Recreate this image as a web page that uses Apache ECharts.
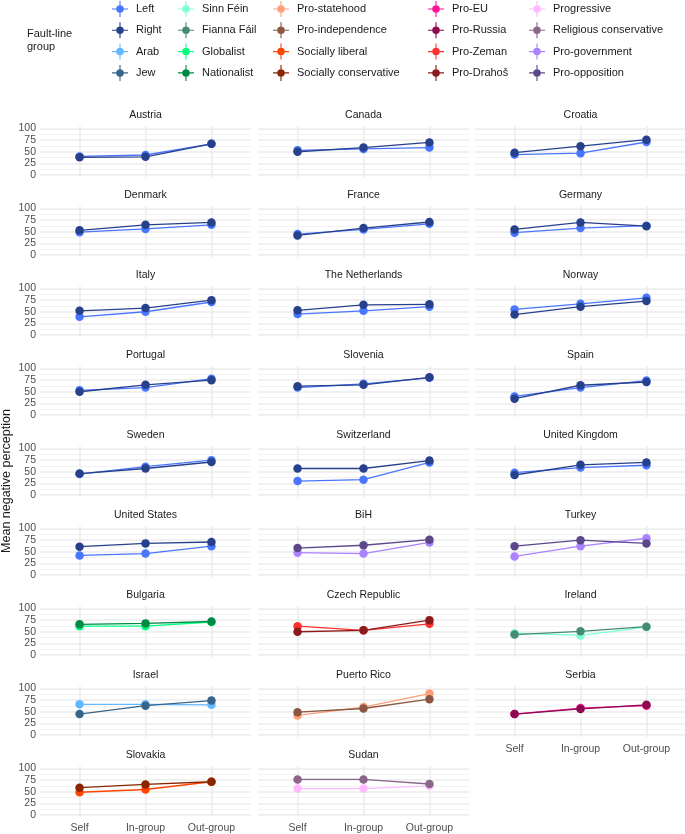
<!DOCTYPE html>
<html><head><meta charset="utf-8">
<script src="https://cdn.jsdelivr.net/npm/echarts@6/dist/echarts.min.js"></script>
<style>html,body{margin:0;padding:0;background:#fff}#c{width:685px;height:834px}</style>
</head><body><div id="c"></div>
<script>
const categories = ['Self', 'In-group', 'Out-group'];
const yTicks = [0, 25, 50, 75, 100];
const countries = ['Austria','Canada','Croatia','Denmark','France','Germany','Italy','The Netherlands','Norway',
  'Portugal','Slovenia','Spain','Sweden','Switzerland','United Kingdom','United States','BiH','Turkey',
  'Bulgaria','Czech Republic','Ireland','Israel','Puerto Rico','Serbia','Slovakia','Sudan'];
const groupA = ['Left','Left','Left','Left','Left','Left','Left','Left','Left','Left','Left','Left','Left','Left','Left','Left',
  'Pro-government','Pro-government','Globalist','Pro-Zeman','Sinn Féin','Arab','Pro-statehood','Pro-EU','Socially liberal','Progressive'];
const groupB = ['Right','Right','Right','Right','Right','Right','Right','Right','Right','Right','Right','Right','Right','Right','Right','Right',
  'Pro-opposition','Pro-opposition','Nationalist','Pro-Drahoš','Fianna Fáil','Jew','Pro-independence','Pro-Russia','Socially conservative','Religious conservative'];
const valuesA = [
  [40,43,67],[53,56,59],[44,47,71],[49,56,65],[45,55,67],[48,58,63],
  [39,50,71],[45,52,61],[55,67,80],[53,59,78],[59,67,80],[40,59,74],
  [45,61,75],[30,33,70],[48,59,64],[42,46,62],[48,46,70],[40,62,79],
  [62,62,71],[62,53,67],[47,42,60],[66,66,65],[42,60,89],[45,58,63],
  [48,54,71],[56,56,62]];
const valuesB = [
  [38,39,67],[50,59,70],[48,62,76],[53,65,70],[42,58,71],[55,70,62],
  [52,58,75],[53,65,66],[44,61,73],[50,65,75],[62,65,81],[35,64,71],
  [46,57,71],[57,57,74],[43,65,70],[61,68,71],[58,64,76],[62,75,68],
  [66,68,72],[50,53,75],[44,51,61],[45,63,74],[49,57,77],[45,56,65],
  [58,65,71],[76,76,66]];
const groupNames = ['Left','Right','Arab','Jew','Sinn Féin','Fianna Fáil','Globalist','Nationalist',
  'Pro-statehood','Pro-independence','Socially liberal','Socially conservative',
  'Pro-EU','Pro-Russia','Pro-Zeman','Pro-Drahoš',
  'Progressive','Religious conservative','Pro-government','Pro-opposition'];
const groupColors = ['#4876FF','#27408B','#63B8FF','#36648B','#7FFFD4','#458B74','#00FF7F','#008B45',
  '#FFA07A','#8B5742','#FF4500','#8B2500','#FF1493','#8B0A50','#FF3030','#8B1A1A',
  '#FFBBFF','#8B668B','#AB82FF','#5D478B'];

const FONT = 'Liberation Sans';
const colorOf = n => groupColors[groupNames.indexOf(n)];
const colLeft = [40, 258, 475];
const panelW = 211;
const span = 46.5;
const bottomIdx = [24, 25, 23];

const grids = [], xAxes = [], yAxes = [], series = [], titles = [];
countries.forEach((name, i) => {
  const r = Math.floor(i / 3), c = i % 3;
  const y100 = 128.5 + 80 * r;
  grids.push({left: colLeft[c], top: y100, width: panelW, height: span});
  xAxes.push({gridIndex: 2 * i, type: 'value', show: false, min: 0, max: 1});
  yAxes.push({gridIndex: 2 * i, type: 'value', min: yTicks[0], max: yTicks[yTicks.length - 1], interval: 25,
    axisLine: {show: false}, axisTick: {show: false},
    axisLabel: {show: c === 0, fontSize: 10.5, color: '#4D4D4D', fontFamily: FONT, margin: 4},
    splitLine: {show: true, lineStyle: {color: '#EBEBEB', width: 1.5}},
    minorTick: {show: false, splitNumber: 2},
    minorSplitLine: {show: true, lineStyle: {color: '#F2F2F2', width: 0.9}}});
  const u = span / 100;
  const cw = panelW / 3.2;
  grids.push({left: colLeft[c] + cw * 0.6, top: y100 - 5 * u, width: cw * 2, height: 110 * u});
  const isBottom = bottomIdx.includes(i);
  xAxes.push({gridIndex: 2 * i + 1, type: 'category', data: categories, boundaryGap: false,
    axisLine: {show: false}, axisTick: {show: false},
    axisLabel: {show: isBottom, fontSize: 10.5, color: '#4D4D4D', fontFamily: FONT, margin: 6.5},
    splitLine: {show: true, lineStyle: {color: '#EBEBEB', width: 1.5}}});
  yAxes.push({gridIndex: 2 * i + 1, type: 'value', min: -5, max: 105, show: false});
  titles.push({text: name, left: colLeft[c] + panelW / 2, top: y100 - 18.5, textAlign: 'center', padding: 0,
    textStyle: {fontSize: 10.5, fontWeight: 'normal', color: '#1A1A1A', fontFamily: FONT}});
  [[groupA[i], valuesA[i]], [groupB[i], valuesB[i]]].forEach(([g, vals], k) => {
    const col = colorOf(g);
    series.push({type: 'line', name: g, xAxisIndex: 2 * i + 1, yAxisIndex: 2 * i + 1, data: vals,
      symbol: 'none', clip: false, silent: true, z: 2 + k * 0.01,
      lineStyle: {color: col, width: 1.3}, itemStyle: {color: col}});
  });
  [[groupA[i], valuesA[i]], [groupB[i], valuesB[i]]].forEach(([g, vals], k) => {
    const col = colorOf(g);
    series.push({type: 'scatter', name: g, xAxisIndex: 2 * i + 1, yAxisIndex: 2 * i + 1, data: vals,
      symbol: 'circle', symbolSize: 8.5, clip: false, silent: true, z: 3 + k * 0.01,
      itemStyle: {color: col, opacity: 1}});
  });
});

const iconPath = 'path://M0,9.3H20V10.7H0Z M9.3,0H10.7V20H9.3Z M10,5.3A4.7,4.7 0 1,1 10,14.7A4.7,4.7 0 1,1 10,5.3Z';
const legendX = [120, 186, 281, 436, 537];
const legends = legendX.map((x, k) => ({
  orient: 'vertical', left: x - 8, top: 1, padding: 0, itemWidth: 16, itemHeight: 16, itemGap: 5.3,
  selectedMode: false, icon: iconPath, data: groupNames.slice(4 * k, 4 * k + 4),
  textStyle: {fontSize: 11, color: '#1A1A1A', fontFamily: FONT, padding: [0, 0, 0, 3]}
}));

const option = {
  animation: false,
  backgroundColor: '#ffffff',
  title: titles,
  legend: legends,
  grid: grids, xAxis: xAxes, yAxis: yAxes, series: series,
  graphic: [
    {type: 'text', left: 27, top: 27, style: {text: 'Fault-line\ngroup', fontSize: 11, lineHeight: 13, fill: '#1A1A1A', fontFamily: FONT}},
    {type: 'text', x: 7, y: 481, rotation: Math.PI / 2,
     style: {text: 'Mean negative perception', fontSize: 12.5, fill: '#1A1A1A', fontFamily: FONT, align: 'center', verticalAlign: 'middle'}}
  ]
};
const chart = echarts.init(document.getElementById('c'), null, {renderer: 'canvas'});
chart.setOption(option);
</script></body></html>
